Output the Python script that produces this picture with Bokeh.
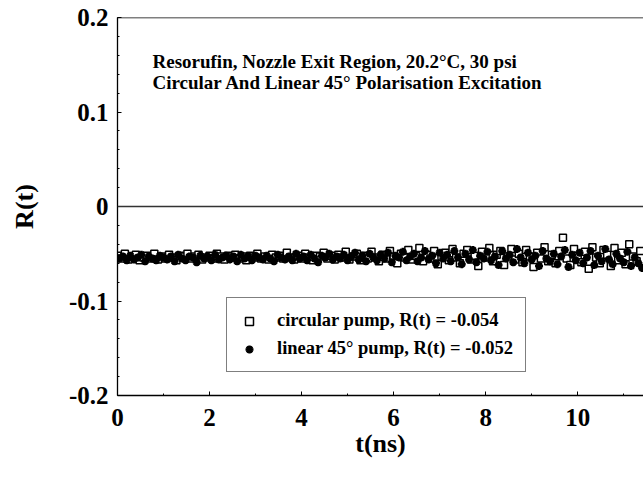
import numpy as np
from bokeh.plotting import figure
from bokeh.models import (Range1d, FixedTicker, CustomJSTickFormatter, Span, Label,
                          Legend, LegendItem)
from bokeh.embed import file_html
from bokeh.resources import INLINE

# ---- data ----
t_step = 0.08
circular_R = [
    -0.052,-0.055,-0.050,-0.056,-0.053,-0.051,-0.057,-0.054,-0.052,-0.055,
    -0.050,-0.056,-0.053,-0.055,-0.051,-0.054,-0.057,-0.052,-0.053,-0.050,
    -0.055,-0.053,-0.051,-0.056,-0.054,-0.052,-0.055,-0.050,-0.053,-0.056,
    -0.052,-0.054,-0.051,-0.055,-0.053,-0.057,-0.052,-0.054,-0.050,-0.055,
    -0.053,-0.056,-0.051,-0.054,-0.052,-0.055,-0.049,-0.054,-0.056,-0.052,
    -0.055,-0.050,-0.054,-0.057,-0.052,-0.053,-0.049,-0.055,-0.052,-0.056,
    -0.051,-0.054,-0.048,-0.056,-0.053,-0.050,-0.057,-0.052,-0.055,-0.048,
    -0.054,-0.058,-0.051,-0.055,-0.047,-0.053,-0.060,-0.050,-0.054,-0.046,
    -0.056,-0.052,-0.044,-0.058,-0.051,-0.055,-0.047,-0.061,-0.053,-0.049,
    -0.057,-0.045,-0.054,-0.060,-0.050,-0.046,-0.056,-0.052,-0.063,-0.048,
    -0.054,-0.044,-0.058,-0.051,-0.047,-0.062,-0.053,-0.045,-0.056,-0.050,
    -0.059,-0.046,-0.053,-0.064,-0.049,-0.055,-0.043,-0.058,-0.051,-0.060,
    -0.047,-0.033,-0.055,-0.062,-0.045,-0.052,-0.059,-0.048,-0.066,-0.043,
    -0.054,-0.060,-0.046,-0.051,-0.063,-0.044,-0.057,-0.049,-0.061,-0.040,
    -0.053,-0.058,-0.047,
]
linear_R = [
    -0.055,-0.053,-0.057,-0.052,-0.056,-0.054,-0.051,-0.058,-0.053,-0.055,
    -0.057,-0.052,-0.054,-0.056,-0.053,-0.058,-0.051,-0.055,-0.057,-0.053,
    -0.054,-0.059,-0.052,-0.055,-0.053,-0.057,-0.051,-0.056,-0.054,-0.052,
    -0.056,-0.053,-0.058,-0.051,-0.055,-0.053,-0.057,-0.052,-0.054,-0.056,
    -0.052,-0.055,-0.058,-0.051,-0.054,-0.056,-0.053,-0.057,-0.050,-0.055,
    -0.053,-0.057,-0.051,-0.055,-0.059,-0.052,-0.054,-0.050,-0.056,-0.053,
    -0.055,-0.051,-0.057,-0.053,-0.049,-0.056,-0.052,-0.058,-0.050,-0.054,
    -0.057,-0.051,-0.055,-0.049,-0.059,-0.052,-0.054,-0.048,-0.057,-0.053,
    -0.050,-0.058,-0.054,-0.047,-0.056,-0.052,-0.060,-0.049,-0.055,-0.051,
    -0.058,-0.047,-0.054,-0.061,-0.050,-0.056,-0.046,-0.059,-0.052,-0.055,
    -0.048,-0.057,-0.053,-0.062,-0.047,-0.055,-0.051,-0.059,-0.045,-0.054,
    -0.060,-0.049,-0.056,-0.052,-0.063,-0.047,-0.055,-0.058,-0.050,-0.061,
    -0.053,-0.046,-0.064,-0.051,-0.057,-0.049,-0.060,-0.054,-0.047,-0.062,
    -0.052,-0.058,-0.045,-0.056,-0.061,-0.050,-0.055,-0.059,-0.048,-0.063,
    -0.054,-0.060,-0.065,
]
t_circ = [i * t_step for i in range(len(circular_R))]
t_lin = [i * t_step + 0.04 for i in range(len(linear_R))]

x_ticks = [0, 2, 4, 6, 8, 10]
x_minor = [1, 3, 5, 7, 9, 11]
y_ticks = [-0.2, -0.1, 0.0, 0.1, 0.2]
y_minor = [round(-0.2 + 0.02 * i, 2) for i in range(21)]

title_lines = ["Resorufin, Nozzle Exit Region, 20.2\u00b0C, 30 psi",
               "Circular And Linear 45\u00b0 Polarisation Excitation"]
legend_labels = ["circular pump, R(t) = -0.054", "linear 45\u00b0 pump, R(t) = -0.052"]

FONT = "Liberation Serif"

p = figure(width=643, height=480, output_backend="svg", toolbar_location=None,
           x_range=Range1d(0, 11.43), y_range=Range1d(-0.2, 0.2),
           min_border_left=117, min_border_right=0, min_border_top=17, min_border_bottom=85)
p.outline_line_color = None
p.xgrid.visible = False
p.ygrid.visible = False
p.background_fill_color = "white"
p.border_fill_color = "white"

for ax in (p.xaxis[0], p.yaxis[0]):
    ax.axis_line_color = "black"
    ax.axis_line_width = 1.3
    ax.major_tick_in = 4
    ax.major_tick_out = 0
    ax.minor_tick_in = 2
    ax.minor_tick_out = 0
    ax.major_tick_line_color = "black"
    ax.minor_tick_line_color = "black"
    ax.major_label_text_font = FONT
    ax.major_label_text_font_style = "bold"
    ax.major_label_text_font_size = "25px"
    ax.major_label_text_color = "black"
    ax.axis_label_text_font = FONT
    ax.axis_label_text_font_style = "bold"
    ax.axis_label_text_font_size = "26px"
    ax.axis_label_text_color = "black"

p.xaxis[0].ticker = FixedTicker(ticks=x_ticks, minor_ticks=x_minor)
p.yaxis[0].ticker = FixedTicker(ticks=y_ticks, minor_ticks=y_minor)
p.yaxis[0].formatter = CustomJSTickFormatter(code="return Math.abs(tick) < 1e-9 ? '0' : tick.toFixed(1);")
p.xaxis[0].axis_label = "t(ns)"
p.yaxis[0].axis_label = "R(t)"
p.xaxis[0].major_label_standoff = 13
p.xaxis[0].axis_label_standoff = 0
p.yaxis[0].major_label_standoff = 9
p.yaxis[0].axis_label_standoff = 27

p.add_layout(Span(location=0.2, dimension="width", line_color="black", line_width=1.3))
p.add_layout(Span(location=0.0, dimension="width", line_color="#333333", line_width=1.6))

r_circ = p.scatter(t_circ, circular_R, marker="square", size=7, fill_color="white",
                   line_color="black", line_width=1.5)
r_lin = p.scatter(t_lin, linear_R, marker="asterisk", size=8, line_color="black",
                  line_width=2.5)

for i, line in enumerate(title_lines):
    p.add_layout(Label(x=0.76, y=0.165 - 0.0225 * i, text=line, text_font=FONT,
                       text_font_style="bold", text_font_size="19px",
                       text_color="black", text_baseline="top"))

legend = Legend(items=[LegendItem(label=legend_labels[0], renderers=[r_circ]),
                       LegendItem(label=legend_labels[1], renderers=[r_lin])],
                location=(109, 23), border_line_color="black", border_line_width=1.3,
                padding=12, spacing=7, glyph_width=20, label_standoff=18,
                label_text_font=FONT, label_text_font_style="bold",
                label_text_font_size="18.5px", label_text_color="black",
                label_height=20, margin=0, background_fill_alpha=1.0)
p.add_layout(legend, "center")

open("out.html", "w").write(file_html(p, INLINE))
